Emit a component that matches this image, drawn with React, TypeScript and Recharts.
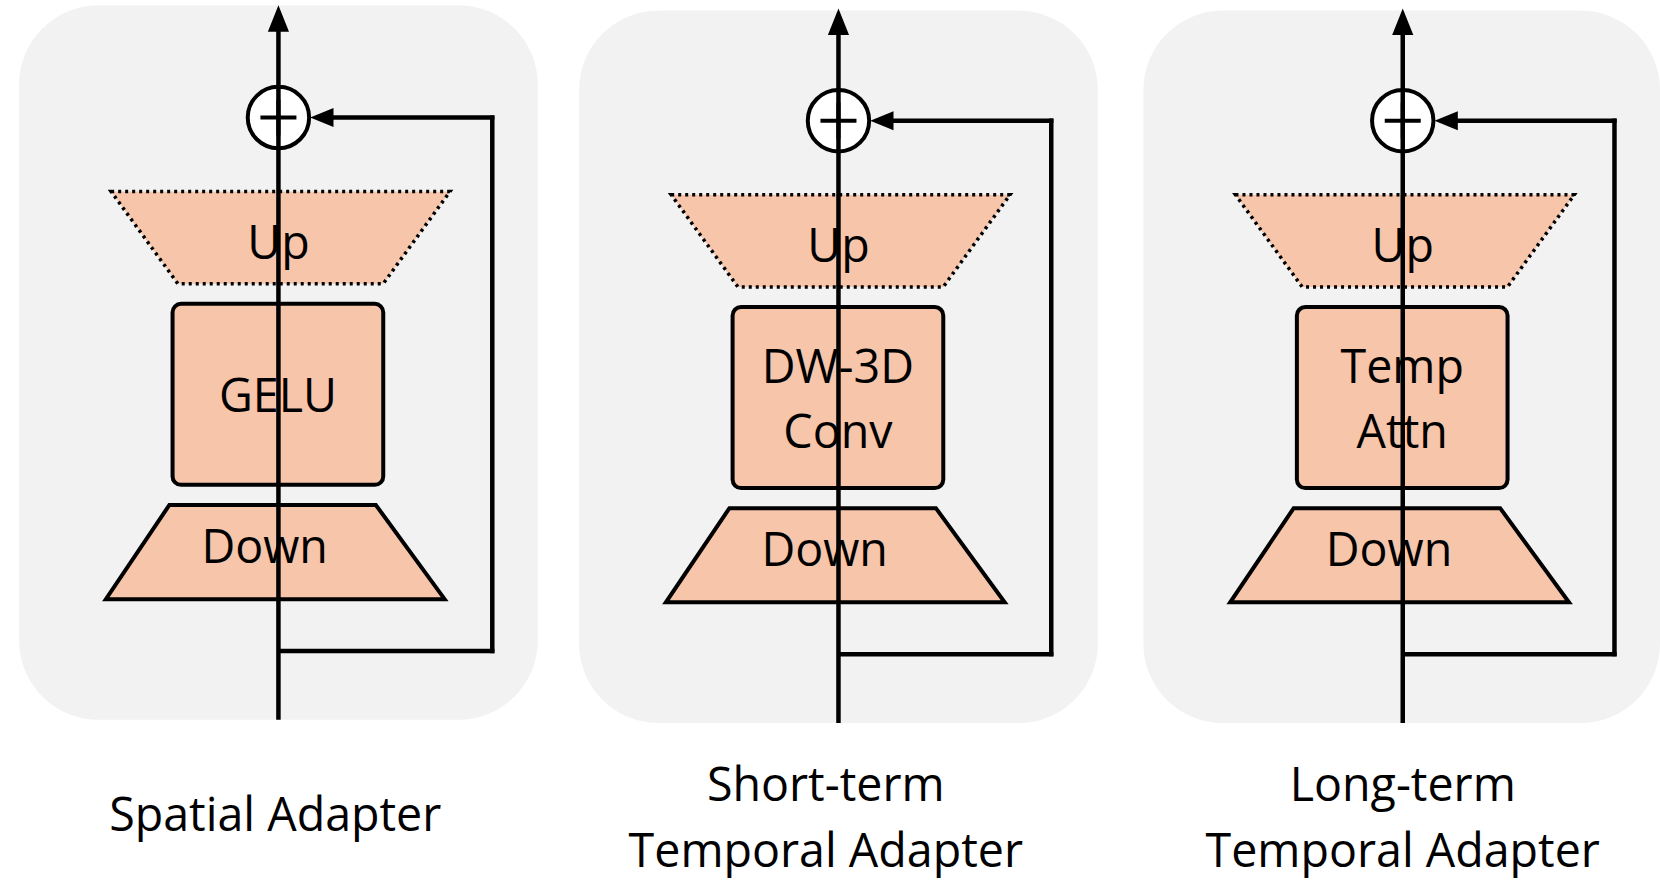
import React from "react";
import { ComposedChart, XAxis, YAxis, ReferenceArea, ReferenceLine } from "recharts";

const W = 1660, H = 885, DW = 1568, DH = 836;
const K = W / DW;
const panelCenters = [263, 792, 1325];
const panelDy = [0, 3, 3];
const panelBoxes = [[18, 508, 5, 680], [547, 1037, 10, 683], [1080, 1568, 10, 683]];
const skipX = [465, 993, 1525];
const boxLabels = [["GELU"], ["DW-3D", "Conv"], ["Temp", "Attn"]];
const titleLines = [["Spatial Adapter"], ["Short-term", "Temporal Adapter"], ["Long-term", "Temporal Adapter"]];
const titleX = [260, 780, 1325];
const titleY = [[768], [740, 802], [740, 802]];

const PEACH = "#f6c5aa";
const FONT = "'Open Sans', 'Noto Sans', sans-serif";

const rounded = (r: number, fill: string, stroke?: string) => (p: any) => (
  <rect x={p.x} y={p.y} width={p.width} height={p.height} rx={r * K} ry={r * K} fill={fill}
    stroke={stroke || "none"} strokeWidth={stroke ? 4 : 0} />
);
const trap = (topIn: [number, number], botIn: [number, number], dashed: boolean) => (p: any) => {
  const { x, y, width: w, height: h } = p;
  const pts = [[x + topIn[0] * w, y], [x + w - topIn[1] * w, y], [x + w - botIn[1] * w, y + h], [x + botIn[0] * w, y + h]];
  return <polygon points={pts.map((q) => q.join(",")).join(" ")} fill={PEACH} stroke="#000"
    strokeWidth={dashed ? 3.5 : 4} strokeDasharray={dashed ? "3 4" : undefined} strokeLinejoin="miter" />;
};
const textShape = (lines: string[], size: number, lh: number) => (p: any) => {
  const cx = p.x + p.width / 2, cy = p.y + p.height / 2;
  const n = lines.length;
  return (
    <g>
      {lines.map((t, i) => (
        <text key={i} x={cx} y={cy + (i - (n - 1) / 2) * lh * K} textAnchor="middle" dominantBaseline="central"
          fontFamily={FONT} fontSize={size * K} fill="#000">{t}</text>
      ))}
    </g>
  );
};
const triShape = (dir: "up" | "left") => (p: any) => {
  const { x, y, width: w, height: h } = p;
  const pts = dir === "up" ? [[x + w / 2, y], [x + w, y + h], [x, y + h]] : [[x, y + h / 2], [x + w, y], [x + w, y + h]];
  return <polygon points={pts.map((q) => q.join(",")).join(" ")} fill="#000" />;
};
const circleShape = (p: any) => (
  <circle cx={p.x + p.width / 2} cy={p.y + p.height / 2} r={p.width / 2} fill="#fff" stroke="#000" strokeWidth={4} />
);

export default function App() {
  React.useEffect(() => { document.body.style.margin = "0"; }, []);
  const els: React.ReactNode[] = [];
  const line = (k: string, x1: number, y1: number, x2: number, y2: number, w = 4.5) =>
    els.push(<ReferenceLine key={k} segment={[{ x: x1, y: y1 }, { x: x2, y: y2 }]} stroke="#000" strokeWidth={w} ifOverflow="visible" />);
  const area = (k: string, x1: number, x2: number, y1: number, y2: number, shape: any) =>
    els.push(<ReferenceArea key={k} x1={x1} x2={x2} y1={y1} y2={y2} shape={shape} ifOverflow="visible" />);

  panelCenters.forEach((cx, i) => {
    const d = panelDy[i];
    const b = panelBoxes[i];
    area(`bg${i}`, b[0], b[1], b[2], b[3], rounded(75, "#f2f2f2"));
    line(`main${i}`, cx, b[3], cx, 24 + d);
    area(`ar${i}`, cx - 10, cx + 10, 5 + d, 30 + d, triShape("up"));
    const sy = 615 + d, py = 111 + d;
    line(`s1${i}`, cx, sy, skipX[i] + 2, sy);
    line(`s2${i}`, skipX[i], sy + 2, skipX[i], py - 2);
    line(`s3${i}`, skipX[i] + 2, py, cx + 45, py);
    area(`sa${i}`, cx + 30, cx + 52, py - 9, py + 9, triShape("left"));
    area(`c${i}`, cx - 29, cx + 29, py - 29, py + 29, circleShape);
    line(`p1${i}`, cx - 17, py, cx + 17, py, 4);
    line(`p2${i}`, cx, py - 17, cx, py + 17, 4);
    area(`up${i}`, cx - 158, cx + 162, 181 + d, 268 + d, trap([0, 0], [63 / 320, 63 / 320], true));
    area(`upt${i}`, cx - 40, cx + 40, 205 + d, 250 + d, textShape(["Up"], 44, 0));
    area(`box${i}`, cx - 100, cx + 99, 287 + d, 458 + d, rounded(8, PEACH, "#000"));
    area(`boxt${i}`, cx - 100, cx + 99, 287 + d, 458 + d, textShape(boxLabels[i], 44, 62));
    area(`dn${i}`, cx - 163, cx + 157, 477 + d, 566 + d, trap([60 / 320, 65 / 320], [0, 0], false));
    area(`dnt${i}`, cx - 80, cx + 54, 492 + d, 538 + d, textShape(["Down"], 44, 0));
    titleLines[i].forEach((t, j) => {
      area(`t${i}${j}`, titleX[i] - 200, titleX[i] + 200, titleY[i][j] - 25, titleY[i][j] + 25, textShape([t], 44, 0));
    });
  });

  return (
    <ComposedChart width={W} height={H} data={[{ x: 0, y: 0 }]} margin={{ top: 0, right: 0, bottom: 0, left: 0 }}>
      <XAxis type="number" dataKey="x" domain={[0, DW]} hide allowDataOverflow />
      <YAxis type="number" dataKey="y" domain={[0, DH]} reversed hide allowDataOverflow />
      {els}
    </ComposedChart>
  );
}
